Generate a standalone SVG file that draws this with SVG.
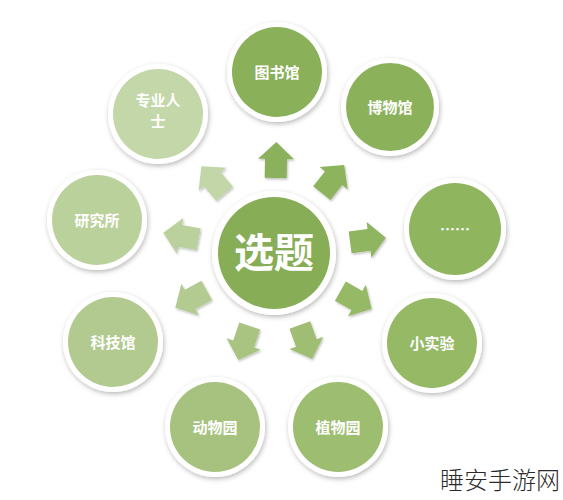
<svg xmlns="http://www.w3.org/2000/svg" width="563" height="500" viewBox="0 0 563 500">
<defs>
<filter id="sh" x="-20%" y="-20%" width="140%" height="140%">
<feDropShadow dx="1" dy="2" stdDeviation="2.5" flood-color="#000" flood-opacity="0.28"/>
</filter>
<filter id="ash" x="-30%" y="-30%" width="160%" height="160%">
<feDropShadow dx="1" dy="1.5" stdDeviation="1.2" flood-color="#000" flood-opacity="0.25"/>
</filter>
<path id="arr" d="M0,-18 L18,-1 L11,-1 L11,18 L-11,18 L-11,-1 L-18,-1 Z"/>
</defs>
<style>
.ring{fill:#ffffff;filter:url(#sh);}
.lbl{font-family:"Noto Sans CJK SC","Noto Sans CJK TC",sans-serif;font-weight:700;fill:#ffffff;text-anchor:middle;font-size:15px;}
.big{font-size:40px;}
.wm{font-family:"Noto Sans CJK SC",sans-serif;font-weight:300;font-size:24px;fill:#2a2a2a;}
</style>
<rect width="563" height="500" fill="#ffffff"/>
<g id="connectors" filter="url(#ash)">
<use href="#arr" fill="#8cb15c" transform="translate(276,160) rotate(1)"/>
<use href="#arr" fill="#8db35c" transform="translate(333,179) rotate(38.5)"/>
<use href="#arr" fill="#90b560" transform="translate(368,240) rotate(82.5)"/>
<use href="#arr" fill="#96b966" transform="translate(356,300) rotate(119.7)"/>
<use href="#arr" fill="#9fbe73" transform="translate(306,342) rotate(160)"/>
<use href="#arr" fill="#a8c480" transform="translate(244,343) rotate(198.6)"/>
<use href="#arr" fill="#b3cb91" transform="translate(191,299) rotate(241)"/>
<use href="#arr" fill="#bbd19d" transform="translate(181,236) rotate(280.6)"/>
<use href="#arr" fill="#c2d6a7" transform="translate(213,180) rotate(320)"/>
</g>
<g id="center">
<circle class="ring" cx="274" cy="253" r="62"/>
<circle cx="274" cy="253" r="56" fill="#88ad57"/>
<text class="lbl big" x="274" y="267">选题</text>
</g>
<g id="n-library">
<circle class="ring" cx="277" cy="72" r="50"/>
<circle cx="277" cy="72" r="45" fill="#8ab05a"/>
<text class="lbl" x="277" y="78">图书馆</text>
</g>
<g id="n-museum">
<circle class="ring" cx="390" cy="107" r="49"/>
<circle cx="390" cy="107" r="44" fill="#8bb25b"/>
<text class="lbl" x="390" y="113">博物馆</text>
</g>
<g id="n-etc">
<circle class="ring" cx="455" cy="229" r="51"/>
<circle cx="455" cy="229" r="46" fill="#8fb55f"/>
<text class="lbl" x="455" y="235">……</text>
</g>
<g id="n-experiment">
<circle class="ring" cx="432" cy="343" r="50"/>
<circle cx="432" cy="343" r="45" fill="#95b964"/>
<text class="lbl" x="432" y="349">小实验</text>
</g>
<g id="n-botanic">
<circle class="ring" cx="338" cy="427" r="50"/>
<circle cx="338" cy="427" r="45" fill="#9dbd70"/>
<text class="lbl" x="338" y="433">植物园</text>
</g>
<g id="n-zoo">
<circle class="ring" cx="215" cy="427" r="50"/>
<circle cx="215" cy="427" r="45" fill="#a6c27e"/>
<text class="lbl" x="215" y="433">动物园</text>
</g>
<g id="n-scitech">
<circle class="ring" cx="113" cy="342" r="50"/>
<circle cx="113" cy="342" r="45" fill="#b2ca8f"/>
<text class="lbl" x="113" y="348">科技馆</text>
</g>
<g id="n-institute">
<circle class="ring" cx="97" cy="220" r="50"/>
<circle cx="97" cy="220" r="45" fill="#bbd19c"/>
<text class="lbl" x="97" y="226">研究所</text>
</g>
<g id="n-expert">
<circle class="ring" cx="158" cy="114" r="50"/>
<circle cx="158" cy="114" r="45" fill="#c3d7a8"/>
<text class="lbl" x="158" y="106">专业人</text>
<text class="lbl" x="158" y="127">士</text>
</g>
<text class="wm" x="440" y="489">睡安手游网</text>
</svg>
